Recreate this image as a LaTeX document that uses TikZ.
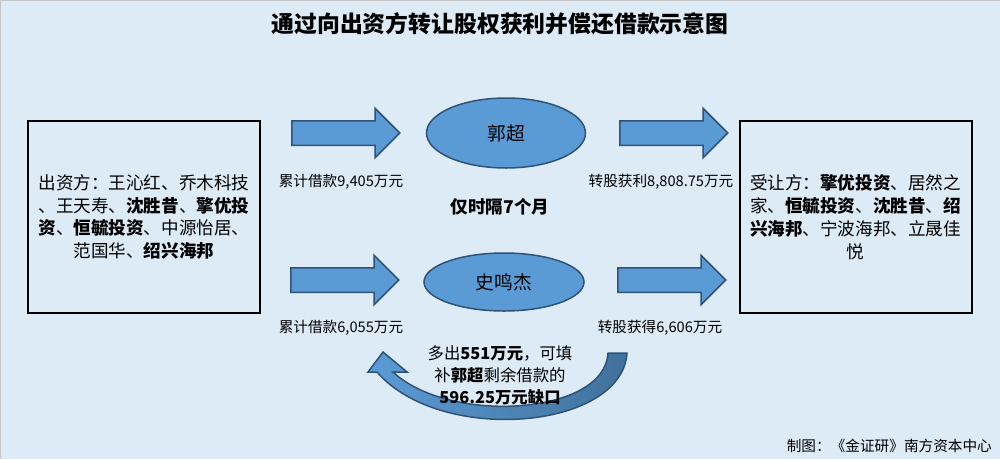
\documentclass[tikz,border=0pt]{standalone}
\usepackage{fontspec}
\setmainfont{Noto Sans CJK SC}
\usepackage{tikz}
\usetikzlibrary{shapes.geometric,shapes.arrows}
\definecolor{bgblue}{HTML}{DDEBF7}
\definecolor{fillblue}{HTML}{5B9BD5}
\definecolor{edgeblue}{HTML}{2F5277}
\definecolor{deepblue}{HTML}{41719C}

\begin{document}
\begin{tikzpicture}[x=0.3mm,y=-0.3mm,
    party/.style={draw, line width=0.6mm, minimum width=69.6mm, minimum height=57.6mm, align=center, font=\fontsize{15}{19.6}\selectfont},
    person/.style={ellipse, draw=edgeblue, line width=0.45mm, fill=fillblue, inner sep=0pt, font=\fontsize{16}{19}\selectfont},
    fatarrow/.style={single arrow, draw=edgeblue, line width=0.45mm, fill=fillblue, anchor=tail, minimum height=32.4mm, text height=6.9mm, text depth=0pt, inner sep=0pt, single arrow head extend=3.75mm},
    amount/.style={font=\fontsize{12.5}{15}\selectfont}]
                \useasboundingbox (0,0) rectangle (1000,459);
                \fill[bgblue] (0,0) rectangle (1000,459);
                \draw[gray!45, line width=0.5mm] (0,459) |- (1000,0);

                \node[font=\fontsize{19.5}{22}\selectfont\bfseries] (title) at (500,24) {通过向出资方转让股权获利并偿还借款示意图};

                \node[party] (lender) at (144,217) {出资方：王沁红、乔木科技\\、王天寿、\textbf{沈胜昔}、\textbf{擎优投}\\\textbf{资}、\textbf{恒毓投资}、中源怡居、\\范国华、\textbf{绍兴海邦}};
                \node[party] (buyer) at (855.5,217) {受让方：\textbf{擎优投资}、居然之\\家、\textbf{恒毓投资}、\textbf{沈胜昔}、\textbf{绍}\\\textbf{兴海邦}、宁波海邦、立晟佳\\悦};

                \node[person, minimum width=47.7mm, minimum height=21mm] (guo) at (506,133) {郭超};
                \node[person, minimum width=48mm, minimum height=17.4mm] (shi) at (504,282) {史鸣杰};

                \node[fatarrow] (inA) at (291,133) {};
                \node[fatarrow] (outA) at (619,133) {};
                \node[fatarrow] (inB) at (290,280) {};
                \node[fatarrow] (outB) at (617,280) {};

                \node[amount] (loanA) at (341,182) {累计借款9,405万元};
                \node[amount] (gainA) at (661,182) {转股获利8,808.75万元};
                \node[amount] (loanB) at (341,328) {累计借款6,055万元};
                \node[amount] (gainB) at (660,328) {转股获得6,606万元};
                \node[font=\fontsize{15}{18}\selectfont\bfseries] (span) at (500,207) {仅时隔7个月};

                % curved arrow back to the left
                \draw[draw=edgeblue, line width=0.45mm, left color=fillblue, right color=deepblue]
                    (608,353) -- (627,353) .. controls (622,430) and (440,445) .. (377,372)
                    -- (368,372) -- (383,352) -- (407,372) -- (393,372)
                    .. controls (450,425) and (605,415) .. (608,353) -- cycle;
                \node[align=center, font=\fontsize{14}{18.7}\selectfont] (gap) at (500,375) {多出\textbf{551万元}，可填\\补\textbf{郭超}剩余借款的\\\textbf{596.25万元缺口}};

                \node[amount, anchor=east] (credit) at (996,446) {制图：《金证研》南方资本中心};
            \end{tikzpicture}
\end{document}
